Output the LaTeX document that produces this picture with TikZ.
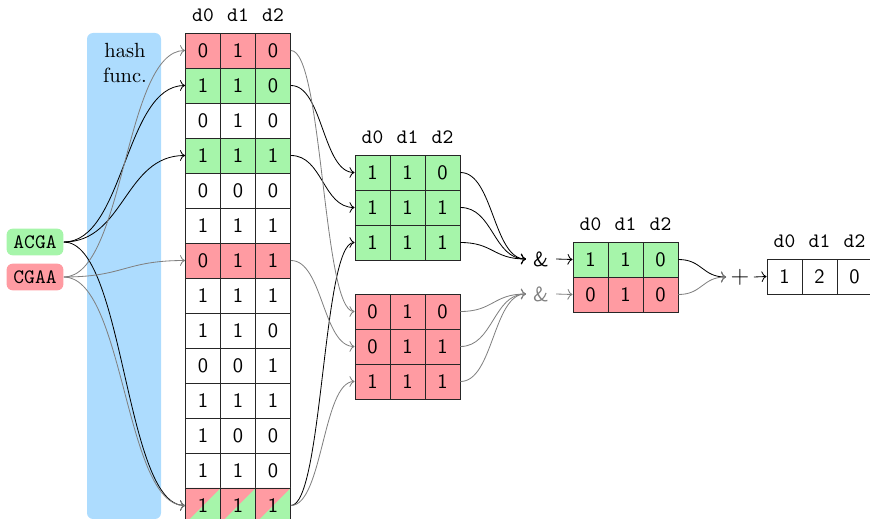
\documentclass[tikz,border=0pt]{standalone}
\usepackage{xcolor}
\usetikzlibrary{positioning}
\usetikzlibrary{calc}
\usetikzlibrary{arrows.meta}

\definecolor{cellgreen}{RGB}{166,245,170}
\definecolor{cellred}{RGB}{255,155,162}
\definecolor{hashblue}{RGB}{173,220,254}

\tikzset{
    cell/.style={draw=black!85, minimum size=0.6cm, inner sep=0pt, font=\sffamily},
    head/.style={font=\ttfamily},
    seq/.style={rounded corners=3pt, font=\ttfamily},
    split/.style={path picture={
        \fill[cellgreen] (path picture bounding box.south west) rectangle (path picture bounding box.north east);
        \fill[cellred] (path picture bounding box.south west) -- (path picture bounding box.north west) -- (path picture bounding box.north east) -- cycle;
    }},
    link/.style={to path={let \p1=(\tikztostart), \p2=(\tikztotarget) in
        .. controls ({0.5*(\x1+\x2)},\y1) and ({0.5*(\x1+\x2)},\y2) .. (\tikztotarget) \tikztonodes}},
    hit/.style={->, black},
    miss/.style={->, gray},
}

\begin{document}
\begin{tikzpicture}[x=0.01714cm, y=-0.01714cm]
    \useasboundingbox (0,0) rectangle (870,519);
    \clip (0,0) rectangle (870,519);

    % hash functions
    \fill[hashblue, rounded corners=3pt] (87,33) rectangle (161,519);
    \node[align=center] (hashlbl) at (125,63) {hash\\func.};

    % k-mers
    \node[seq, fill=cellgreen] (acga) at (35,242) {ACGA};
    \node[seq, fill=cellred] (cgaa) at (35,277) {CGAA};

    % bit table
    \foreach \r/\a/\b/\c/\f in {0/0/1/0/cellred, 1/1/1/0/cellgreen, 2/0/1/0/white,
        3/1/1/1/cellgreen, 4/0/0/0/white, 5/1/1/1/white, 6/0/1/1/cellred,
        7/1/1/1/white, 8/1/1/0/white, 9/0/0/1/white, 10/1/1/1/white,
        11/1/0/0/white, 12/1/1/0/white} {
        \node[cell, fill=\f] (h\r-0) at (203,50.5+35*\r) {\a};
        \node[cell, fill=\f] (h\r-1) at (238,50.5+35*\r) {\b};
        \node[cell, fill=\f] (h\r-2) at (273,50.5+35*\r) {\c};
    }
    \node[cell, split] (h13-0) at (203,505.5) {1};
    \node[cell, split] (h13-1) at (238,505.5) {1};
    \node[cell, split] (h13-2) at (273,505.5) {1};
    \node[head, above=2pt of h0-0] (hd0) {d0};
    \node[head, above=2pt of h0-1] (hd1) {d1};
    \node[head, above=2pt of h0-2] (hd2) {d2};

    % rows that were hit
    \foreach \r/\a/\b/\c in {0/1/1/0, 1/1/1/1, 2/1/1/1} {
        \node[cell, fill=cellgreen] (g\r-0) at (372.5,172.5+35*\r) {\a};
        \node[cell, fill=cellgreen] (g\r-1) at (407.5,172.5+35*\r) {\b};
        \node[cell, fill=cellgreen] (g\r-2) at (442.5,172.5+35*\r) {\c};
    }
    \node[head, above=2pt of g0-0] (gd0) {d0};
    \node[head, above=2pt of g0-1] (gd1) {d1};
    \node[head, above=2pt of g0-2] (gd2) {d2};

    \foreach \r/\a/\b/\c in {0/0/1/0, 1/0/1/1, 2/1/1/1} {
        \node[cell, fill=cellred] (m\r-0) at (372.5,311.5+35*\r) {\a};
        \node[cell, fill=cellred] (m\r-1) at (407.5,311.5+35*\r) {\b};
        \node[cell, fill=cellred] (m\r-2) at (442.5,311.5+35*\r) {\c};
    }

    % and / sum
    \node[font=\sffamily] (and1) at (541,259) {\&};
    \node[font=\sffamily, text=gray] (and2) at (541,294) {\&};

    \node[cell, fill=cellgreen] (s0-0) at (590.5,259.5) {1};
    \node[cell, fill=cellgreen] (s0-1) at (625.5,259.5) {1};
    \node[cell, fill=cellgreen] (s0-2) at (660.5,259.5) {0};
    \node[cell, fill=cellred] (s1-0) at (590.5,294.5) {0};
    \node[cell, fill=cellred] (s1-1) at (625.5,294.5) {1};
    \node[cell, fill=cellred] (s1-2) at (660.5,294.5) {0};
    \node[head, above=2pt of s0-0] (sd0) {d0};
    \node[head, above=2pt of s0-1] (sd1) {d1};
    \node[head, above=2pt of s0-2] (sd2) {d2};

    \node[font=\sffamily\large, inner sep=2pt] (plus) at (740,277) {+};

    \node[cell] (f0) at (784.5,276.5) {1};
    \node[cell] (f1) at (819.5,276.5) {2};
    \node[cell] (f2) at (854.5,276.5) {0};
    \node[head, above=2pt of f0] (fd0) {d0};
    \node[head, above=2pt of f1] (fd1) {d1};
    \node[head, above=2pt of f2] (fd2) {d2};

    % hashing
    \draw[hit] (acga.east) to[link] (h1-0.west);
    \draw[hit] (acga.east) to[link] (h3-0.west);
    \draw[hit] (acga.east) to[link] (h13-0.west);
    \draw[miss] (cgaa.east) to[link] (h0-0.west);
    \draw[miss] (cgaa.east) to[link] (h6-0.west);
    \draw[miss] (cgaa.east) to[link] (h13-0.west);

    % lookup
    \draw[hit] (h1-2.east) to[link] (g0-0.west);
    \draw[hit] (h3-2.east) to[link] (g1-0.west);
    \draw[hit] (h13-2.east) to[link] (g2-0.west);
    \draw[miss] (h0-2.east) to[link] (m0-0.west);
    \draw[miss] (h6-2.east) to[link] (m1-0.west);
    \draw[miss] (h13-2.east) to[link] (m2-0.west);

    \foreach \r in {0,1,2} {
        \draw[hit] (g\r-2.east) to[link] (and1.west);
        \draw[miss] (m\r-2.east) to[link] (and2.west);
    }
    \draw[hit] (and1.east) -- (s0-0.west);
    \draw[miss] (and2.east) -- (s1-0.west);
    \draw[hit] (s0-2.east) to[link] (plus.west);
    \draw[miss] (s1-2.east) to[link] (plus.west);
    \draw[hit] (plus.east) -- (f0.west);
\end{tikzpicture}
\end{document}
